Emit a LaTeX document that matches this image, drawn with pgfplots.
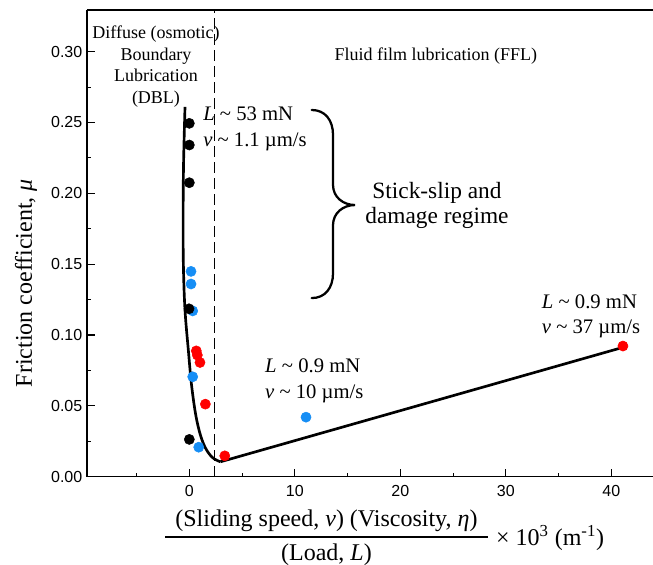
\documentclass[border=0pt]{standalone}
\usepackage{fontspec}
\setmainfont{Liberation Serif}
\newfontfamily\arialfont{Liberation Sans}
\usepackage{pgfplots}
\pgfplotsset{compat=1.18}
\usetikzlibrary{calc}
\definecolor{ptblue}{RGB}{22,142,245}
\definecolor{ptred}{RGB}{255,0,0}

\begin{document}
\begin{tikzpicture}
\begin{axis}[
    name=ax,
    scale only axis,
    width=424.5pt, height=350pt,
    xmin=-9.7, xmax=43.95, ymin=0, ymax=0.3294,
    axis x line*=box, axis y line*=left,
    axis line style={-, line width=1pt},
    tick align=inside,
    xtick pos=left, ytick pos=left,
    xtick={0,10,20,30,40},
    minor xtick={-5,5,15,25,35},
    ytick={0,0.05,0.10,0.15,0.20,0.25,0.30},
    minor ytick={0.025,0.075,0.125,0.175,0.225,0.275},
    major tick length=6pt, minor tick length=3pt,
    tick style={line width=0.8pt, black},
    ticklabel style={font=\arialfont\fontsize{12}{14}\selectfont},
    yticklabel style={/pgf/number format/fixed, /pgf/number format/fixed zerofill,
        /pgf/number format/precision=2, /pgf/number format/assume math mode=true},
    xticklabel style={/pgf/number format/assume math mode=true, yshift=-3pt},
    ylabel={Friction coefficient, \textit{μ}},
    ylabel style={font=\fontsize{18}{22}\selectfont,
        at={(axis description cs:-0.1078,0.4148)}, anchor=center},
    clip=false,
]
% data points
\addplot[only marks, mark=*, mark size=3.8pt, color=ptblue] coordinates {
    (0.16,0.1449) (0.16,0.1360) (0.32,0.1170) (0.32,0.0705) (0.89,0.0208) (11.06,0.0420)
};
\addplot[only marks, mark=*, mark size=3.8pt, color=ptred] coordinates {
    (0.66,0.0888) (0.76,0.0858) (1.01,0.0806) (1.52,0.0512) (3.36,0.0147) (41.1,0.0922)
};
\addplot[only marks, mark=*, mark size=3.8pt, color=black] coordinates {
    (0.0,0.2494) (0.0,0.2341) (0.0,0.2075) (-0.03,0.1185) (0.0,0.0263)
};
% guide curve
\addplot[black, line width=2pt, smooth, tension=0.6] coordinates {
    (-0.41,0.261) (-0.55,0.22) (-0.59,0.18) (-0.56,0.148) (-0.41,0.1176)
    (-0.09,0.089) (0.23,0.0634) (0.70,0.040) (1.33,0.0234) (2.12,0.014) (2.95,0.0105)
};
\addplot[black, line width=2pt] coordinates {(2.95,0.0105) (41.3,0.0917)};
% regime boundary
\addplot[black, line width=1.2pt, dash pattern=on 8pt off 4pt] coordinates {(2.4,0) (2.4,0.3294)};

% brace
\draw[line width=1.7pt, line cap=round]
    (axis cs:11.60,0.25883) .. controls (axis cs:12.86,0.25883) and (axis cs:13.62,0.25177) .. (axis cs:13.62,0.24117)
    -- (axis cs:13.62,0.20586)
    .. controls (axis cs:13.62,0.19739) and (axis cs:14.57,0.19174) .. (axis cs:15.71,0.19174)
    .. controls (axis cs:14.57,0.19174) and (axis cs:13.62,0.18609) .. (axis cs:13.62,0.17761)
    -- (axis cs:13.62,0.14371)
    .. controls (axis cs:13.62,0.13312) and (axis cs:12.86,0.12606) .. (axis cs:11.60,0.12606);

% region labels
\begin{scope}[every node/.style={inner sep=0pt, font=\fontsize{13.5}{16}\selectfont}]
\node[anchor=base] at (axis cs:-3.16,0.3095) {Diffuse (osmotic)};
\node[anchor=base] at (axis cs:-3.16,0.2941) {Boundary};
\node[anchor=base] at (axis cs:-3.16,0.2786) {Lubrication};
\node[anchor=base] at (axis cs:-3.16,0.2634) {(DBL)};
\node[anchor=base] at (axis cs:23.36,0.2941) {Fluid film lubrication (FFL)};
\end{scope}

\begin{scope}[every node/.style={inner sep=0pt, anchor=base west, font=\fontsize{15.5}{18}\selectfont}]
\node at (axis cs:1.3,0.2517) {\textit{L} \textasciitilde{} 53 mN};
\node at (axis cs:1.3,0.2329) {\textit{v} \textasciitilde{} 1.1 µm/s};
\node at (axis cs:7.17,0.0738) {\textit{L} \textasciitilde{} 0.9 mN};
\node at (axis cs:7.17,0.0554) {\textit{v} \textasciitilde{} 10 µm/s};
\node at (axis cs:33.4,0.1190) {\textit{L} \textasciitilde{} 0.9 mN};
\node at (axis cs:33.4,0.1013) {\textit{v} \textasciitilde{} 37 µm/s};
\end{scope}

\begin{scope}[every node/.style={inner sep=0pt, anchor=base, font=\fontsize{17.5}{21}\selectfont}]
\node at (axis cs:23.47,0.1966) {Stick-slip and};
\node at (axis cs:23.47,0.1788) {damage regime};
\end{scope}

% x label as a fraction
\begin{scope}[every node/.style={inner sep=0pt, font=\fontsize{18}{22}\selectfont}]
\node[anchor=base] at (axis cs:13.0,-0.03545) {(Sliding speed, \textit{v}) (Viscosity, \textit{η})};
\node[anchor=base] at (axis cs:13.0,-0.0590) {(Load, \textit{L})};
\node[anchor=base west] at (axis cs:29.06,-0.0484) {× 10\textsuperscript{3} (m\textsuperscript{-1})};
\end{scope}
\draw[line width=1.5pt] (axis cs:-2.30,-0.0427) -- (axis cs:28.33,-0.0427);
\end{axis}
\pgfresetboundingbox
\path[use as bounding box] ($(ax.south west)+(-65.25pt,-65.6pt)$) rectangle ($(ax.north east)+(0pt,7.5pt)$);
\end{tikzpicture}
\end{document}
